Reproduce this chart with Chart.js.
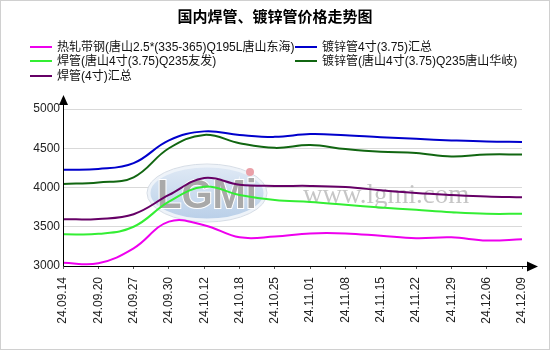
<!DOCTYPE html>
<html>
<head>
<meta charset="utf-8">
<script src="https://cdn.jsdelivr.net/npm/chart.js@4"></script>
<style>
  html, body { margin: 0; padding: 0; background: #fff; }
  #wrap { position: relative; width: 550px; height: 350px; font-family: "Liberation Sans", "Noto Sans CJK SC", sans-serif; }
  #c { position: absolute; left: 0; top: 0; }
  #title { position: absolute; left: 0; top: 9px; width: 550px; text-align: center; font-size: 15px; line-height: 16px; font-weight: bold; color: #000; }
  .lg { position: absolute; height: 14px; font-size: 12px; line-height: 14px; color: #111; white-space: nowrap; }
  .lg i { position: absolute; left: 0; top: 6px; width: 22px; height: 2px; }
  .lg span { position: absolute; left: 27px; top: 0; }
</style>
</head>
<body>
<div id="wrap">
  <canvas id="c" width="550" height="350"></canvas>
  <div id="title">国内焊管、镀锌管价格走势图</div>
  <div id="legend"></div>
</div>
<script>
// Dates of the weekly price quotes
const categories = ['24.09.14','24.09.20','24.09.27','24.09.30','24.10.12','24.10.18','24.10.25',
                    '24.11.01','24.11.08','24.11.15','24.11.22','24.11.29','24.12.06','24.12.09'];

// Price series (元/吨)
const hotRolledStrip = [3040,3035,3225,3565,3520,3365,3375,3415,3415,3385,3355,3365,3325,3340];
const weldedYoufa    = [3405,3410,3500,3820,4010,3905,3840,3815,3780,3745,3715,3685,3665,3665];
const weldedAvg      = [3595,3600,3660,3905,4120,4035,4020,4020,4005,3965,3930,3905,3885,3875];
const galvAvg        = [4225,4235,4310,4600,4715,4670,4645,4680,4665,4640,4620,4600,4585,4580];
const galvHuaqi      = [4045,4065,4130,4500,4670,4565,4505,4540,4490,4455,4440,4395,4420,4420];

const seriesNames = [
  '热轧带钢(唐山2.5*(335-365)Q195L唐山东海)',
  '焊管(唐山4寸(3.75)Q235友发)',
  '焊管(4寸)汇总',
  '镀锌管4寸(3.75)汇总',
  '镀锌管(唐山4寸(3.75)Q235唐山华岐)'
];
const seriesColors = ['#ee00ee', '#33ee33', '#660066', '#0000cc', '#116611'];
const seriesValues = [hotRolledStrip, weldedYoufa, weldedAvg, galvAvg, galvHuaqi];

// Y axis range
const yMin = 3000, yMax = 5000, yStep = 500;

const FONT = '"Liberation Sans", "Noto Sans CJK SC", sans-serif';

// Frame, watermark and axis arrows
const decor = {
  id: 'decor',
  beforeDraw(chart) {
    const ctx = chart.ctx;
    ctx.save();
    ctx.fillStyle = '#fff';
    ctx.fillRect(0, 0, chart.width, chart.height);
    ctx.strokeStyle = '#d0d0d0';
    ctx.lineWidth = 1;
    ctx.strokeRect(0.5, 0.5, chart.width - 1, chart.height - 1);
    ctx.restore();
  },
  beforeDatasetsDraw(chart) {
    const ctx = chart.ctx;
    ctx.save();
    // oval badge
    const g = ctx.createLinearGradient(0, 166, 0, 220);
    g.addColorStop(0, '#dfe9f5');
    g.addColorStop(1, '#b9cfe8');
    ctx.beginPath();
    ctx.ellipse(207, 193, 58, 27, 0, 0, Math.PI * 2);
    ctx.fillStyle = g;
    ctx.fill();
    ctx.lineWidth = 3;
    ctx.strokeStyle = '#eef3f9';
    ctx.stroke();
    ctx.lineWidth = 1;
    ctx.strokeStyle = '#d6dde6';
    ctx.beginPath();
    ctx.ellipse(207, 193, 60, 29, 0, 0, Math.PI * 2);
    ctx.stroke();
    // badge letters
    ctx.font = 'bold 40px "Liberation Sans", sans-serif';
    ctx.textBaseline = 'alphabetic';
    ctx.lineWidth = 2;
    ctx.strokeStyle = '#ffffff';
    ctx.strokeText('LGMi', 157, 208);
    ctx.fillStyle = '#a9a9a9';
    ctx.fillText('LGMi', 157, 208);
    ctx.beginPath();
    ctx.arc(250, 172, 4, 0, Math.PI * 2);
    ctx.fillStyle = '#eaa0a8';
    ctx.fill();
    // site address
    ctx.font = '27px "Liberation Serif", serif';
    ctx.fillStyle = '#c6c6c6';
    ctx.fillText('www.lgmi.com', 303, 203);
    ctx.restore();
  },
  afterDraw(chart) {
    const { ctx, chartArea: a } = chart;
    ctx.save();
    ctx.strokeStyle = '#000';
    ctx.fillStyle = '#000';
    ctx.lineWidth = 1;
    const x0 = Math.round(a.left) + 0.5;
    const yb = Math.round(a.bottom) + 0.5;
    // vertical axis with arrow
    ctx.beginPath();
    ctx.moveTo(x0, yb);
    ctx.lineTo(x0, 105);
    ctx.stroke();
    ctx.beginPath();
    ctx.moveTo(x0 - 4.5, 105);
    ctx.lineTo(x0 + 4.5, 105);
    ctx.lineTo(x0, 95);
    ctx.closePath();
    ctx.fill();
    // horizontal axis with arrow
    ctx.beginPath();
    ctx.moveTo(x0, yb);
    ctx.lineTo(528, yb);
    ctx.stroke();
    ctx.beginPath();
    ctx.moveTo(527, yb - 5);
    ctx.lineTo(527, yb + 5);
    ctx.lineTo(538, yb);
    ctx.closePath();
    ctx.fill();
    ctx.restore();
  }
};

// Legend laid out in two columns from the chart's datasets
const htmlLegend = {
  id: 'htmlLegend',
  afterUpdate(chart) {
    const box = document.getElementById('legend');
    box.innerHTML = '';
    chart.data.datasets.forEach((ds, i) => {
      const col = Math.floor(i / 3), row = i % 3;
      const el = document.createElement('div');
      el.className = 'lg';
      el.style.left = (col === 0 ? 30 : 295) + 'px';
      el.style.top = (40 + row * 14.3) + 'px';
      const mark = document.createElement('i');
      mark.style.background = ds.borderColor;
      const txt = document.createElement('span');
      txt.textContent = ds.label;
      el.appendChild(mark);
      el.appendChild(txt);
      box.appendChild(el);
    });
  }
};

new Chart(document.getElementById('c'), {
  type: 'line',
  data: {
    labels: categories,
    datasets: seriesNames.map((name, i) => ({
      label: name,
      data: seriesValues[i],
      borderColor: seriesColors[i],
      backgroundColor: seriesColors[i],
      borderWidth: 2,
      pointRadius: 0,
      pointHoverRadius: 0,
      tension: 0.4,
      fill: false
    }))
  },
  options: {
    responsive: false,
    animation: false,
    devicePixelRatio: 1,
    layout: { padding: { top: 109, right: 28, bottom: 0, left: 0 } },
    plugins: {
      legend: { display: false },
      title: { display: false },
      tooltip: { enabled: false }
    },
    scales: {
      x: {
        offset: false,
        afterFit(scale) { scale.height = 84; },
        border: { display: false },
        grid: { drawOnChartArea: false, drawTicks: true, tickLength: 3, color: '#555' },
        ticks: {
          autoSkip: false, minRotation: 90, maxRotation: 90, padding: 8,
          color: '#222', font: { family: FONT, size: 12 }
        }
      },
      y: {
        min: yMin, max: yMax,
        afterFit(scale) { scale.width = 63; },
        border: { display: false },
        grid: { color: '#d9d9d9', drawTicks: false },
        ticks: {
          stepSize: yStep, padding: 3,
          color: '#222', font: { family: FONT, size: 12 },
          callback: (v) => String(v)
        }
      }
    }
  },
  plugins: [decor, htmlLegend]
});
</script>
</body>
</html>
